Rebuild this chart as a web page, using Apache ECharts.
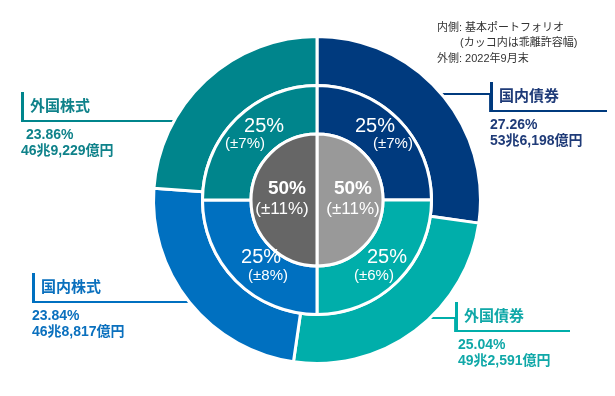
<!DOCTYPE html>
<html><head><meta charset="utf-8">
<script src="https://cdn.jsdelivr.net/npm/echarts@6/dist/echarts.min.js"></script>
<style>html,body{margin:0;padding:0;background:#fff}#c{width:615px;height:396px}</style>
</head><body><div id="c"></div>
<script>
// ---- data ----
const categories = ['国内債券', '外国債券', '国内株式', '外国株式'];
const actualPct = [27.26, 25.04, 23.84, 23.86];
const actualAmount = ['53兆6,198億円', '49兆2,591億円', '46兆8,817億円', '46兆9,229億円'];
const policyPct = [25, 25, 25, 25];
const policyRange = ['±7%', '±6%', '±8%', '±7%'];
const assetClasses = ['債券', '株式'];
const assetPct = [50, 50];
const assetRange = ['±11%', '±11%'];
const noteLines = ['内側: 基本ポートフォリオ', '(カッコ内は乖離許容幅)', '外側: 2022年9月末'];

// ---- styles ----
const colors = ['#003A7E', '#00AEAA', '#0070C0', '#00858C'];
const textColors = ['#1F3B78', '#10A8A8', '#0A70BE', '#0F828A'];
const assetColors = ['#999999', '#666666'];
const FONT = "'Liberation Sans','Noto Sans CJK JP',sans-serif";
const cx = 317, cy = 200, R = 163.5;
const rOuter = [114.5, R], rMid = [66, 114.5], rInner = [0, 66];

// label boxes for outer ring (top-left of label)
const labelBoxes = [
  {side: 'right', x: 490, y: 82, lead: 94, end: 607},
  {side: 'right', x: 455, y: 302, lead: 318, end: 570},
  {side: 'left', x: 32, y: 273},
  {side: 'left', x: 21, y: 92}
];
const pctIndent = [0, 3, 0, 5];
// per-line horizontal shifts for mid-ring labels
const midShift = [[-8, 10], [4, -9], [10, 17], [13, -6]];
const innerShift = [[0, 0], [6, 1]];

function pad(d) { return d >= 0 ? [0, 0, 0, 2 * d] : [0, -2 * d, 0, 0]; }

const outerRich = {};
const midRich = {};
categories.forEach((c, i) => {
  outerRich['bar' + i] = {width: 3, height: 30, backgroundColor: colors[i]};
  outerRich['n' + i] = {fontSize: 15, fontWeight: 'bold', color: textColors[i], lineHeight: 30, padding: [0, 0, 0, 6], fontFamily: FONT};
  outerRich['p' + i] = {fontSize: 14, fontWeight: 'bold', color: textColors[i], lineHeight: 26, padding: [0, 0, 0, pctIndent[i]], fontFamily: FONT};
  outerRich['a' + i] = {fontSize: 14, fontWeight: 'bold', color: textColors[i], lineHeight: 6, padding: [0, 0, 0, i === 1 ? 3 : 0], fontFamily: FONT};
  midRich['t' + i] = {fontSize: 20, color: '#fff', lineHeight: 20, padding: pad(midShift[i][0]), fontFamily: FONT};
  midRich['r' + i] = {fontSize: 15, color: '#fff', lineHeight: 16, padding: pad(midShift[i][1]), fontFamily: FONT};
});
const innerRich = {};
assetClasses.forEach((c, i) => {
  innerRich['t' + i] = {fontSize: 19, fontWeight: 'bold', color: '#fff', lineHeight: 22, padding: pad(innerShift[i][0]), fontFamily: FONT};
  innerRich['r' + i] = {fontSize: 17, color: '#fff', lineHeight: 18, padding: pad(innerShift[i][1]), fontFamily: FONT};
});

const chart = echarts.init(document.getElementById('c'), null, {renderer: 'canvas'});
chart.setOption({
  animation: false,
  backgroundColor: '#fff',
  graphic: [
    {type: 'text', left: 437, top: 22, style: {text: noteLines[0], font: '11px ' + FONT, fill: '#333'}},
    {type: 'text', left: 460, top: 37, style: {text: noteLines[1], font: '11px ' + FONT, fill: '#333'}},
    {type: 'text', left: 437, top: 53, style: {text: noteLines[2], font: '11px ' + FONT, fill: '#333'}}
  ],
  series: [
    {
      type: 'pie', center: [cx, cy], radius: rOuter, startAngle: 90, clockwise: true,
      avoidLabelOverlap: false, silent: true,
      itemStyle: {borderColor: '#fff', borderWidth: 3},
      data: categories.map((c, i) => ({name: c, value: actualPct[i], itemStyle: {color: colors[i]}})),
      label: {
        show: true, position: 'outside', rich: outerRich,
        formatter: p => `{bar${p.dataIndex}| }{n${p.dataIndex}|${p.name}}\n{p${p.dataIndex}|${actualPct[p.dataIndex].toFixed(2)}%}\n{a${p.dataIndex}|${actualAmount[p.dataIndex]}}`
      },
      labelLine: {show: true, length: 10, length2: 10, smooth: false, lineStyle: {width: 1.8}},
      labelLayout: function (params) {
        const b = labelBoxes[params.dataIndex];
        const bottom = b.y + 29;
        let pts;
        if (b.side === 'right') {
          const ex = cx + Math.sqrt(R * R - (b.lead - cy) * (b.lead - cy)) - 2;
          pts = [[ex, b.lead], [b.x, b.lead], [b.x, bottom], [b.end, bottom]];
        } else {
          const ex = cx - Math.sqrt(R * R - (bottom - cy) * (bottom - cy)) + 2;
          pts = [[ex, bottom], [(ex + b.x) / 2, bottom], [b.x, bottom]];
        }
        return {x: b.x, y: b.y, align: 'left', verticalAlign: 'top', labelLinePoints: pts};
      }
    },
    {
      type: 'pie', center: [cx, cy], radius: rMid, startAngle: 90, clockwise: true,
      avoidLabelOverlap: false, silent: true,
      itemStyle: {borderColor: '#fff', borderWidth: 3},
      data: categories.map((c, i) => ({name: c, value: policyPct[i], itemStyle: {color: colors[i]}})),
      label: {
        show: true, position: 'inside', rich: midRich,
        formatter: p => `{t${p.dataIndex}|${policyPct[p.dataIndex]}%}\n{r${p.dataIndex}|(${policyRange[p.dataIndex]})}`
      },
      labelLine: {show: false}
    },
    {
      type: 'pie', center: [cx, cy], radius: rInner, startAngle: 90, clockwise: true,
      avoidLabelOverlap: false, silent: true,
      itemStyle: {borderColor: '#fff', borderWidth: 3},
      data: assetClasses.map((c, i) => ({name: c, value: assetPct[i], itemStyle: {color: assetColors[i]}})),
      label: {
        show: true, position: 'inside', rich: innerRich, offset: [0, -2],
        formatter: p => `{t${p.dataIndex}|${assetPct[p.dataIndex]}%}\n{r${p.dataIndex}|(${assetRange[p.dataIndex]})}`
      },
      labelLine: {show: false}
    }
  ]
});
</script>
</body></html>
